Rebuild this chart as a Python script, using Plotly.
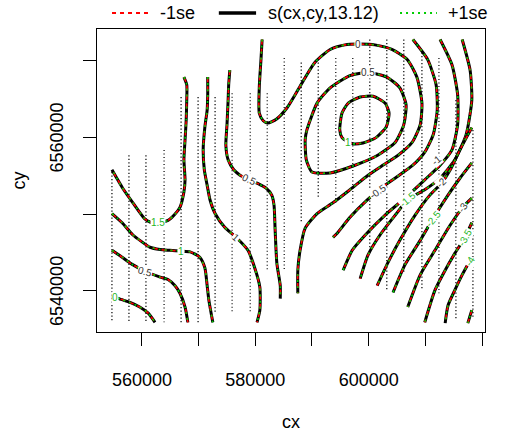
import plotly.graph_objects as go

# ---------------- data (km; converted to metres below) ----------------
# data point transects (vertical columns of observation points)
dot_x_km   = [554.7, 557.7, 560.7, 563.9, 566.9, 569.9, 572.9, 575.9, 579.1, 582.1, 585.1,
              588.1, 591.1, 594.2, 597.2, 600.2, 603.2, 606.2, 609.4, 612.4, 615.4, 618.4]
dot_top_km = [6555.5, 6557.7, 6557.7, 6558.4, 6565.3, 6565.3, 6565.3, 6565.8, 6565.8, 6565.8, 6570.4,
              6569.8, 6569.8, 6570.4, 6570.4, 6572.8, 6572.8, 6572.8, 6571.1, 6570.4, 6564.9, 6561.0]
dot_bot_km = [6535.9, 6535.9, 6535.9, 6535.9, 6535.9, 6535.9, 6537.1, 6537.1, 6537.1, 6542.7, 6542.7,
              6548.9, 6552.1, 6551.5, 6551.5, 6545.7, 6540.1, 6542.3, 6540.1, 6539.7, 6536.2, 6536.6]

# contour lines of s(cx,cy) (level, x km, y km)
c_A_level = 1.5
c_A_x = [567.4, 567.9, 567.9, 567.8, 567.6, 567.4, 567.6, 567.4, 566.7, 565.8, 564.6, 562.8, 561.4, 560.5, 558.4, 556.6, 554.7]
c_A_y = [6567.9, 6566.9, 6564.9, 6562.3, 6559.7, 6557.1, 6554.5, 6552.9, 6550.9, 6550.0, 6549.2, 6548.9, 6549.0, 6549.4, 6551.5, 6553.4, 6555.8]

c_B_level = 1
c_B_x = [571.6, 571.6, 571.5, 571.1, 570.8, 571.0, 571.5, 572.0, 572.9, 574.6, 576.6, 578.7, 579.9, 580.8, 580.8, 580.3]
c_B_y = [6567.9, 6565.6, 6563.6, 6561.4, 6558.4, 6555.8, 6553.8, 6551.9, 6550.1, 6548.3, 6547.0, 6545.3, 6543.0, 6540.5, 6537.5, 6535.9]

c_C_level = 1
c_C_x = [554.7, 556.5, 558.4, 560.0, 561.4, 563.2, 564.9, 566.9, 568.5, 570.2, 571.1, 571.5, 571.8, 572.5]
c_C_y = [6550.1, 6548.9, 6547.3, 6546.4, 6545.7, 6545.4, 6545.3, 6545.2, 6545.1, 6544.4, 6543.0, 6540.7, 6538.8, 6535.9]

c_D_level = 0.5
c_D_x = [554.7, 556.5, 558.2, 560.5, 563.2, 564.6, 565.8, 566.7, 567.6, 568.1]
c_D_y = [6545.3, 6544.4, 6543.5, 6542.6, 6541.8, 6541.5, 6540.7, 6539.7, 6537.9, 6535.9]

c_E_level = 0
c_E_x = [554.7, 555.2, 556.3, 557.9, 559.6, 561.1, 562.3]
c_E_y = [6539.3, 6539.2, 6538.9, 6538.5, 6537.9, 6537.1, 6535.9]

c_F_level = 0.5
c_F_x = [575.5, 575.3, 575.2, 575.0, 574.8, 575.2, 576.2, 577.3, 578.9, 580.5, 581.9, 582.9, 583.3, 583.5, 583.8, 584.4, 584.4]
c_F_y = [6568.8, 6566.9, 6564.9, 6561.7, 6559.0, 6557.1, 6555.8, 6555.1, 6554.5, 6554.0, 6553.4, 6552.5, 6551.2, 6547.9, 6543.6, 6540.7, 6539.0]

c_G_level = 0
c_G_x = [581.2, 581.0, 580.7, 580.7, 581.4, 582.2, 583.7, 585.6, 587.9, 590.5, 593.2, 595.8, 598.1, 601.1, 604.1, 606.8,
         608.5, 609.4, 609.1, 607.7, 605.2, 602.5, 599.9, 596.7, 593.7, 590.9, 588.8, 587.9, 587.5, 587.5]
c_G_y = [6572.8, 6570.2, 6566.6, 6563.2, 6562.2, 6561.9, 6562.4, 6563.9, 6566.7, 6569.8, 6571.5, 6572.1, 6572.2, 6572.1, 6571.5, 6570.2,
         6567.9, 6564.5, 6561.7, 6559.4, 6557.7, 6556.4, 6555.1, 6553.2, 6551.5, 6550.1, 6548.2, 6545.3, 6542.7, 6539.7]

c_H_level = 0.5
c_H_x = [589.1, 590.9, 593.2, 596.7, 599.9, 603.2, 605.5, 606.6, 606.2, 604.7, 601.6, 597.6, 593.2, 590.0, 589.0, 588.8, 589.1]
c_H_y = [6561.0, 6564.5, 6566.5, 6568.1, 6568.5, 6567.9, 6566.5, 6564.3, 6561.7, 6559.4, 6557.7, 6556.4, 6555.4, 6555.5, 6557.1, 6559.7, 6561.0]

c_I_level = 1
c_I_x = [594.9, 595.3, 596.4, 598.5, 600.8, 602.9, 603.6, 603.1, 601.3, 599.0, 597.1, 595.3, 594.9]
c_I_y = [6561.0, 6563.2, 6564.5, 6565.3, 6565.4, 6564.5, 6563.2, 6561.4, 6560.0, 6559.3, 6559.2, 6560.0, 6561.0]

c_J_level = -0.5
c_J_x = [607.8, 610.4, 611.9, 612.1, 611.4, 609.9, 607.8, 605.0, 602.5, 599.8, 596.7, 594.4, 593.7]
c_J_y = [6572.8, 6570.2, 6566.9, 6563.6, 6560.4, 6558.1, 6556.4, 6554.9, 6553.6, 6551.9, 6549.6, 6547.5, 6547.0]

c_K_level = -1
c_K_x = [612.6, 614.7, 615.7, 615.7, 614.7, 612.6, 609.9, 606.4, 602.9, 599.4, 597.1, 595.5]
c_K_y = [6572.8, 6569.5, 6565.6, 6561.7, 6558.4, 6556.4, 6554.5, 6552.1, 6549.9, 6547.3, 6545.3, 6542.7]

c_L_level = -1.5
c_L_x = [616.5, 617.9, 618.2, 617.2, 615.2, 612.6, 609.9, 606.9, 604.7, 602.0, 599.9, 598.5]
c_L_y = [6572.8, 6568.8, 6564.9, 6560.4, 6557.1, 6554.7, 6553.2, 6551.9, 6549.9, 6547.3, 6544.7, 6541.6]

c_M_level = -2
c_M_x = [618.2, 616.1, 614.4, 612.9, 610.8, 608.2, 605.5, 603.4, 601.5]
c_M_y = [6561.3, 6558.4, 6555.8, 6554.1, 6552.5, 6549.9, 6546.6, 6543.7, 6540.7]

c_N_level = -2.5
c_N_x = [618.2, 616.1, 614.0, 611.4, 609.1, 606.4, 604.3]
c_N_y = [6556.7, 6554.7, 6552.5, 6549.5, 6546.6, 6543.4, 6539.8]

c_O_level = -3
c_O_x = [618.2, 616.6, 614.4, 611.7, 609.1, 606.9]
c_O_y = [6552.1, 6550.9, 6548.6, 6545.3, 6542.1, 6537.9]

c_P_level = -3.5
c_P_x = [618.2, 617.0, 615.2, 613.5, 611.7, 609.9]
c_P_y = [6548.9, 6547.0, 6544.9, 6542.7, 6540.1, 6535.9]

c_Q_level = -4
c_Q_x = [618.2, 616.5, 615.2, 614.0, 613.5]
c_Q_y = [6544.4, 6542.1, 6540.1, 6538.1, 6535.8]

c_R_level = -4.5
c_R_x = [618.2, 617.5]
c_R_y = [6537.5, 6535.8]

# contour labels (text, x km, y km)
lab_text = ["1.5", "1", "1", "0.5", "0", "0.5", "0", "0.5", "1", "-0.5", "-1", "-1.5", "-2", "-2.5", "-3", "-3.5", "-4"]
lab_x_km = [562.8, 576.6, 566.9, 560.5, 555.2, 578.9, 598.1, 599.9, 596.4, 601.6, 611.9, 606.9, 612.9, 611.4, 616.6, 617.0, 617.9]
lab_y_km = [6548.9, 6547.0, 6545.2, 6542.6, 6539.2, 6554.5, 6572.2, 6568.5, 6559.3, 6553.0, 6557.0, 6551.9, 6554.1, 6549.5, 6550.9, 6547.0, 6543.8]

x_ticks = [560000, 570000, 580000, 590000, 600000, 610000, 620000]
x_ticktext = ["560000", "", "580000", "", "600000", "", "620000"]
y_ticks = [6540000, 6550000, 6560000, 6570000]
y_ticktext = ["6540000", "", "6560000", ""]

legend_labels = ["-1se", "s(cx,cy,13.12)", "+1se"]

# ---------------- figure ----------------
FONT = "Liberation Sans, Arial, sans-serif"
RED = "#FF0000"
GREEN = "#00CD00"
LABGREEN = "#1FB51F"
lab_angle = [0, 40, 0, 15, 0, 25, 0, 0, 0, -35, -40, -40, -45, -50, -55, -60, -60]
lab_color = [LABGREEN, "#333333", LABGREEN, "#333333", LABGREEN, "#333333", "#333333", "#333333", LABGREEN,
             "#333333", "#333333", LABGREEN, "#333333", LABGREEN, "#333333", LABGREEN, LABGREEN]

def m(v):
    return [a * 1000 for a in v]

fig = go.Figure()

# observation transects
dx, dy = [], []
for x0, t, b in zip(dot_x_km, dot_top_km, dot_bot_km):
    dx += [x0 * 1000, x0 * 1000, None]
    dy += [t * 1000, b * 1000, None]
fig.add_trace(go.Scatter(x=dx, y=dy, mode="lines",
                         line=dict(color="black", width=1.2, dash="1.2px,2.3px"),
                         hoverinfo="skip", showlegend=False))

contours = [
    (c_A_x, c_A_y), (c_B_x, c_B_y), (c_C_x, c_C_y), (c_D_x, c_D_y), (c_E_x, c_E_y),
    (c_F_x, c_F_y), (c_G_x, c_G_y), (c_H_x, c_H_y), (c_I_x, c_I_y), (c_J_x, c_J_y),
    (c_K_x, c_K_y), (c_L_x, c_L_y), (c_M_x, c_M_y), (c_N_x, c_N_y), (c_O_x, c_O_y),
    (c_P_x, c_P_y), (c_Q_x, c_Q_y), (c_R_x, c_R_y),
]
for cx_, cy_ in contours:
    fig.add_trace(go.Scatter(x=m(cx_), y=m(cy_), mode="lines",
                             line=dict(color="black", width=3, shape="spline", smoothing=0.6),
                             hoverinfo="skip", showlegend=False))
    fig.add_trace(go.Scatter(x=m(cx_), y=m(cy_), mode="lines",
                             line=dict(color=RED, width=1.6, dash="5px,4px", shape="spline", smoothing=0.6),
                             hoverinfo="skip", showlegend=False))
    fig.add_trace(go.Scatter(x=m(cx_), y=m(cy_), mode="lines",
                             line=dict(color=GREEN, width=1.6, dash="2px,4px", shape="spline", smoothing=0.6),
                             hoverinfo="skip", showlegend=False))

annotations = []
for t, x0, y0, ang, col in zip(lab_text, lab_x_km, lab_y_km, lab_angle, lab_color):
    annotations.append(dict(x=x0 * 1000, y=y0 * 1000, xref="x", yref="y", text=t, showarrow=False,
                            textangle=ang, bgcolor="white", borderpad=0,
                            font=dict(family=FONT, size=10, color=col)))

# y tick labels (rotated, as in base R)
for v, t in zip(y_ticks, y_ticktext):
    if t:
        annotations.append(dict(x=-0.1031, y=v, xref="paper", yref="y", text=t, showarrow=False,
                                textangle=-90, xanchor="center", yanchor="middle",
                                font=dict(family=FONT, size=18, color="black")))

# axis titles
annotations.append(dict(x=0.5, y=-0.297, xref="paper", yref="paper", text="cx", showarrow=False,
                        xanchor="center", yanchor="middle", font=dict(family=FONT, size=18, color="black")))
annotations.append(dict(x=-0.2036, y=0.5, xref="paper", yref="paper", text="cy", showarrow=False,
                        textangle=-90, xanchor="center", yanchor="middle",
                        font=dict(family=FONT, size=18, color="black")))

# legend (manual, above the plot)
shapes = []
leg_y = 1.0528
leg_items = [(0.0387, 0.1314, RED, "4px,4px", 2, 0.157),
             (0.314, 0.410, "black", "solid", 3.5, 0.4356),
             (0.781, 0.876, GREEN, "2px,4px", 2, 0.8995)]
for (x0, x1, col, dash, w, tx), lab in zip(leg_items, legend_labels):
    shapes.append(dict(type="line", xref="paper", yref="paper", x0=x0, x1=x1, y0=leg_y, y1=leg_y,
                       line=dict(color=col, width=w, dash=dash)))
    annotations.append(dict(x=tx, y=leg_y, xref="paper", yref="paper", text=lab, showarrow=False,
                            xanchor="left", yanchor="middle", font=dict(family=FONT, size=18, color="black")))

fig.update_layout(
    width=512, height=434,
    margin=dict(l=97, r=27, t=29, b=102),
    paper_bgcolor="white", plot_bgcolor="white",
    showlegend=False,
    font=dict(family=FONT, size=18, color="black"),
    annotations=annotations,
    shapes=shapes,
    xaxis=dict(range=[552063, 620529], tickmode="array", tickvals=x_ticks, ticktext=x_ticktext,
               showline=True, mirror=True, linecolor="black", linewidth=1.2,
               ticks="outside", ticklen=13, tickwidth=1.2, tickcolor="black",
               showgrid=False, zeroline=False, ticklabelstandoff=18,
               tickfont=dict(family=FONT, size=18, color="black")),
    yaxis=dict(range=[6534644, 6574170], tickmode="array", tickvals=y_ticks,
               showticklabels=False,
               showline=True, mirror=True, linecolor="black", linewidth=1.2,
               ticks="outside", ticklen=13, tickwidth=1.2, tickcolor="black",
               showgrid=False, zeroline=False),
)

fig.write_html("out.html", config={"displayModeBar": False},
               post_script="document.body.style.margin='0px';document.body.style.padding='0px';")
